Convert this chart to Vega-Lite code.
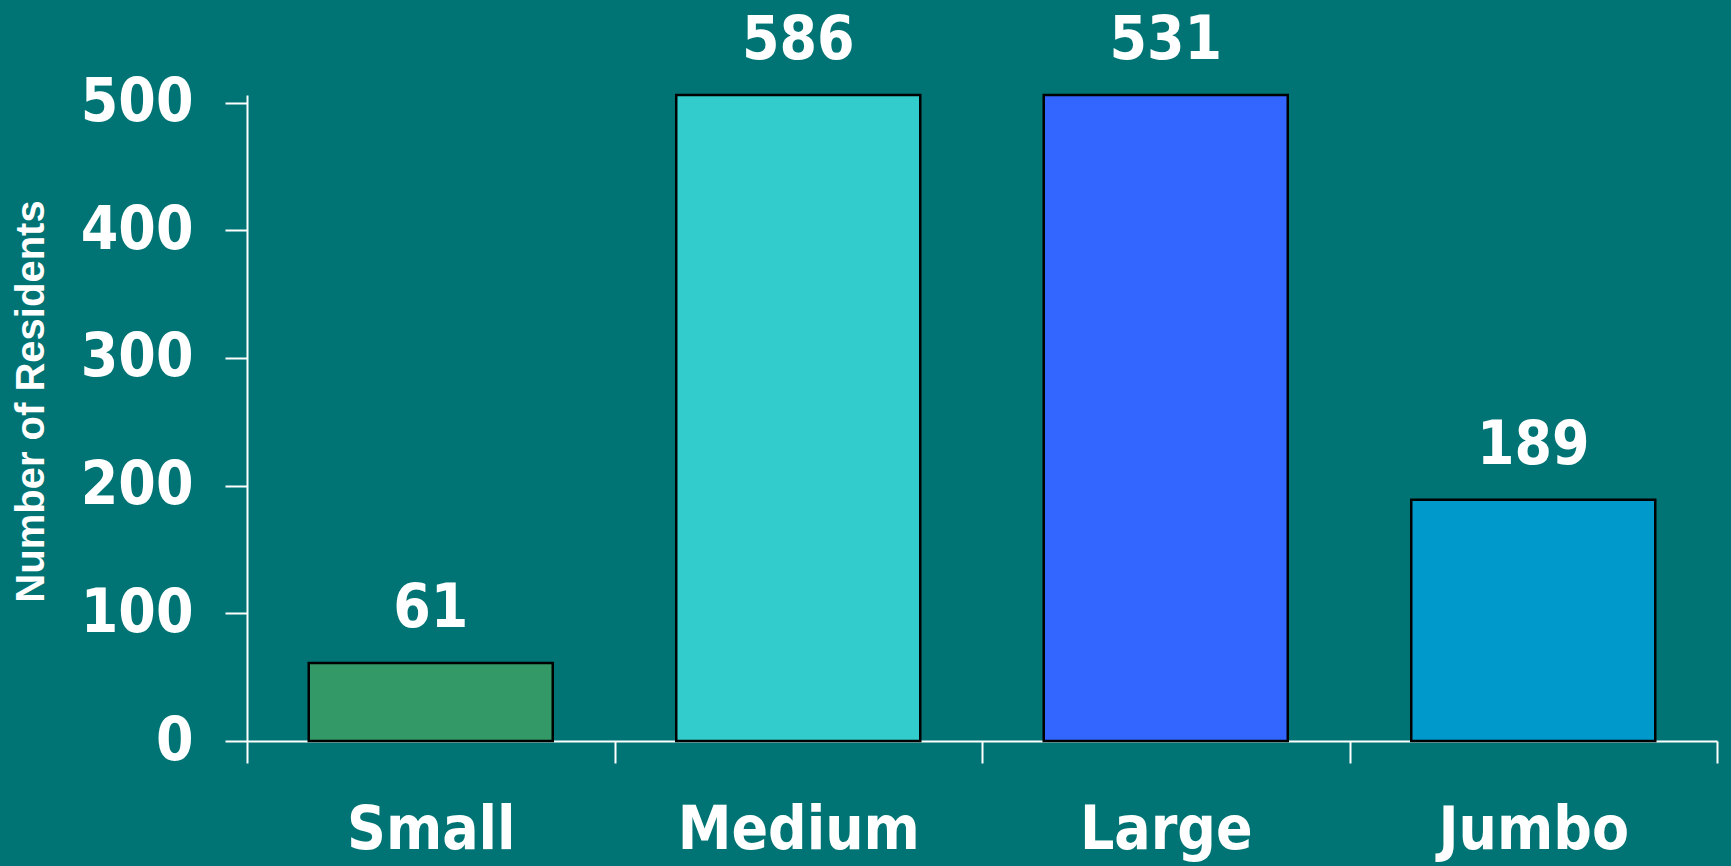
{
  "$schema": "https://vega.github.io/schema/vega-lite/v6.json",
  "width": 1470,
  "height": 646,
  "autosize": {"type": "none"},
  "padding": {"left": 247, "top": 95, "right": 14, "bottom": 125},
  "background": "#007474",
  "view": {"stroke": null},
  "data": {
    "values": [
      {"size": "Small", "residents": 61},
      {"size": "Medium", "residents": 586},
      {"size": "Large", "residents": 531},
      {"size": "Jumbo", "residents": 189}
    ]
  },
  "encoding": {
    "x": {
      "field": "size",
      "type": "nominal",
      "sort": null,
      "scale": {"paddingInner": 0, "paddingOuter": 0},
      "axis": {
        "title": null,
        "labelAngle": 0,
        "tickBand": "extent",
        "domainColor": "white",
        "domainWidth": 2,
        "tickColor": "white",
        "tickWidth": 2,
        "tickSize": 22,
        "labelColor": "white",
        "labelFont": "DejaVu Sans Condensed, DejaVu Sans",
        "labelFontWeight": "bold",
        "labelFontSize": 60,
        "labelBaseline": "alphabetic",
        "labelPadding": 85,
        "labelLimit": 0
      }
    },
    "y": {
      "field": "residents",
      "type": "quantitative",
      "scale": {"domain": [0, 506], "clamp": true, "nice": false},
      "axis": {
        "title": "Number of Residents",
        "values": [0, 100, 200, 300, 400, 500],
        "grid": false,
        "domainColor": "white",
        "domainWidth": 2,
        "tickColor": "white",
        "tickWidth": 2,
        "tickSize": 22,
        "labelColor": "white",
        "labelFont": "DejaVu Sans Condensed, DejaVu Sans",
        "labelFontWeight": "bold",
        "labelFontSize": 60,
        "labelPadding": 32,
        "titleColor": "white",
        "titleFont": "Liberation Sans",
        "titleFontWeight": "bold",
        "titleFontSize": 40,
        "titleAngle": -90,
        "titleAlign": "center",
        "titleBaseline": "alphabetic",
        "titleX": -204,
        "titleY": 306
      }
    }
  },
  "layer": [
    {
      "mark": {"type": "bar", "stroke": "black", "strokeWidth": 2.5, "width": {"band": 0.664}},
      "encoding": {
        "color": {
          "field": "size",
          "type": "nominal",
          "scale": {
            "domain": ["Small", "Medium", "Large", "Jumbo"],
            "range": ["#339966", "#33CCCC", "#3366FF", "#0099CC"]
          },
          "legend": null
        }
      }
    },
    {
      "mark": {
        "type": "text",
        "color": "white",
        "font": "DejaVu Sans Condensed, DejaVu Sans",
        "fontWeight": "bold",
        "fontSize": 60,
        "baseline": "alphabetic",
        "dy": -36
      },
      "encoding": {
        "text": {"field": "residents", "type": "quantitative"}
      }
    }
  ]
}
